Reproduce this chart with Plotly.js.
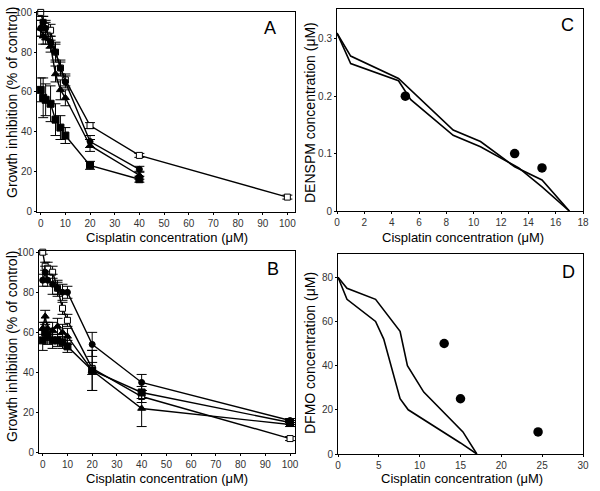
<!DOCTYPE html>
<html><head><meta charset="utf-8">
<script src="https://cdn.plot.ly/plotly-3.0.1.min.js"></script>
<style>body{margin:0;background:#fff}#g{width:600px;height:491px}</style>
</head><body><div id="g"></div>
<script>
// Panel A
const xA = [0, 1, 2, 4, 6, 8, 10, 20, 40, 100];
const aOpenSq = [100, 95, 93, 91, 80, 72, 66, 43, 28, 7];
const aOpenSqErr = [2, 3, 3, 3, 4, 4, 3, 1.5, 1, 1];
const aCircle = [92, 95, 92, 85, 80, 72, 65, 35, 21];
const aCircleErr = [4, 3, 3, 3, 5, 3, 3, 3, 1.5];
const aTri = [92, 88, 87, 83, 69, 61, 57, 33, 18];
const aTriErr = [4, 4, 3, 3, 4, 5, 4, 3, 2];
const aFillSq = [61, 57, 56, 54, 46, 42, 38, 23, 16];
const aFillSqErr = [6, 10, 8, 9, 8, 6, 4, 2, 1.5];
// Panel B
const xB = [0, 1, 2, 4, 6, 8, 10, 20, 40, 100];
const bOpenSq = [100, 93, 92, 90, 82, 72, 66, 42, 28, 7];
const bOpenSqErr = [1, 2, 3, 3, 3, 3, 3, 3, 3, 1];
const bCircle = [86, 90, 86, 84, 82, 80, 80, 54, 35, 16];
const bCircleErr = [3, 3, 3, 5, 4, 4, 3, 6, 4, 1];
const bTri = [62, 68, 62, 61, 63, 60, 58, 41, 22, 14];
const bTriErr = [3, 3, 3, 4, 4, 4, 4, 10, 9, 1];
const bFillSq = [56, 60, 58, 56, 56, 55, 53, 41, 30, 15];
const bFillSqErr = [5, 4, 4, 4, 3, 3, 3, 10, 3, 1];
// Panel C (isobolograms)
const cLine1X = [0, 1, 4.5, 8.5, 10.5, 13, 15, 17];
const cLine1Y = [0.31, 0.27, 0.231, 0.141, 0.121, 0.077, 0.054, 0];
const cLine2X = [0, 1, 4.5, 5.4, 8.5, 10.5, 13.3, 15, 17];
const cLine2Y = [0.31, 0.257, 0.227, 0.194, 0.132, 0.112, 0.075, 0.042, 0];
const cDotsX = [5, 13, 15];
const cDotsY = [0.2, 0.1, 0.075];
// Panel D
const dLine1X = [0, 1.1, 4.6, 7.6, 8.5, 10.5, 15.3, 17];
const dLine1Y = [80, 75, 70, 55.5, 40, 28, 10, 0];
const dLine2X = [0, 1.1, 4.6, 5.6, 7.6, 8.6, 15, 17];
const dLine2Y = [80, 70, 60, 52, 25, 20, 5, 0];
const dDotsX = [13, 15, 24.5];
const dDotsY = [50, 25, 10];

const xTitle = 'Cisplatin concentration (μM)';
const yTitleAB = 'Growth inhibition (% of control)';
const yTitleC = 'DENSPM concentration (μM)';
const yTitleD = 'DFMO concentration (μM)';

const font = 'Liberation Sans, Arial, sans-serif';
function ser(x, y, e, sym, fill, size, xa, ya){
  return {x: x.slice(0, y.length), y: y, xaxis: xa, yaxis: ya, type: 'scatter', mode: 'lines+markers',
    line: {color: '#000', width: 1.4},
    marker: {symbol: sym, size: size, color: fill, line: {color: '#000', width: 1}},
    error_y: {type: 'data', array: e, visible: true, color: '#000', thickness: 1, width: 5},
    showlegend: false, cliponaxis: false};
}
function lin(x, y, xa, ya){
  return {x: x, y: y, xaxis: xa, yaxis: ya, type: 'scatter', mode: 'lines', line: {color: '#000', width: 1.6}, showlegend: false};
}
function dots(x, y, xa, ya){
  return {x: x, y: y, xaxis: xa, yaxis: ya, type: 'scatter', mode: 'markers', marker: {color: '#000', size: 9.5}, showlegend: false, cliponaxis: false};
}
const data = [
  ser(xA, aOpenSq, aOpenSqErr, 'square', '#fff', 6, 'x', 'y'),
  ser(xA, aCircle, aCircleErr, 'circle', '#000', 6, 'x', 'y'),
  ser(xA, aTri, aTriErr, 'triangle-up', '#000', 7, 'x', 'y'),
  ser(xA, aFillSq, aFillSqErr, 'square', '#000', 7, 'x', 'y'),
  lin(cLine1X, cLine1Y, 'x2', 'y2'),
  lin(cLine2X, cLine2Y, 'x2', 'y2'),
  dots(cDotsX, cDotsY, 'x2', 'y2'),
  ser(xB, bOpenSq, bOpenSqErr, 'square', '#fff', 6, 'x3', 'y3'),
  ser(xB, bCircle, bCircleErr, 'circle', '#000', 6, 'x3', 'y3'),
  ser(xB, bTri, bTriErr, 'triangle-up', '#000', 7, 'x3', 'y3'),
  ser(xB, bFillSq, bFillSqErr, 'square', '#000', 7, 'x3', 'y3'),
  lin(dLine1X, dLine1Y, 'x4', 'y4'),
  lin(dLine2X, dLine2Y, 'x4', 'y4'),
  dots(dDotsX, dDotsY, 'x4', 'y4')
];
function ax(extra){
  return Object.assign({showgrid: false, zeroline: false, showline: true, mirror: true, linecolor: '#000', linewidth: 1,
    ticks: 'outside', ticklen: 2, tickcolor: '#000', tickfont: {family: font, size: 10, color: '#333'}}, extra);
}
const tfx = {family: font, size: 13, color: '#000'};
const tfy = {family: font, size: 14, color: '#000'};
function lab(text, px, py, rot){
  return {text: text, x: px/600, y: 1-py/491, xref: 'paper', yref: 'paper', xanchor: 'center', yanchor: 'middle',
    showarrow: false, textangle: rot || 0, font: rot ? tfy : tfx};
}
function letter(text, px, py){
  return {text: text, x: px/600, y: 1-py/491, xref: 'paper', yref: 'paper', xanchor: 'center', yanchor: 'middle',
    showarrow: false, font: {family: font, size: 18, color: '#000'}};
}
const layout = {
  width: 600, height: 491, margin: {l: 0, r: 0, t: 0, b: 0}, paper_bgcolor: '#fff', plot_bgcolor: '#fff',
  xaxis: ax({domain: [37/600, 295/600], range: [-1.5, 103.1], dtick: 10, anchor: 'y'}),
  yaxis: ax({domain: [1-212/491, 1-12/491], range: [-0.5, 100.2], dtick: 20, anchor: 'x'}),
  xaxis2: ax({domain: [337/600, 583/600], range: [0, 18], dtick: 2, anchor: 'y2'}),
  yaxis2: ax({domain: [1-211/491, 1-9/491], range: [0, 0.352], dtick: 0.1, anchor: 'x2'}),
  xaxis3: ax({domain: [39/600, 295/600], range: [-1.5, 102], dtick: 10, anchor: 'y3'}),
  yaxis3: ax({domain: [1-453/491, 1-251/491], range: [-0.2, 100.6], dtick: 20, anchor: 'x3'}),
  xaxis4: ax({domain: [338/600, 583/600], range: [0, 30], dtick: 5, anchor: 'y4'}),
  yaxis4: ax({domain: [1-454/491, 1-254/491], range: [0, 90.5], dtick: 20, anchor: 'x4'}),
  annotations: [
    lab(xTitle, 167, 237), lab(xTitle, 463, 237), lab(xTitle, 167, 478), lab(xTitle, 462, 478),
    lab(yTitleAB, 12, 103, -90), lab(yTitleC, 310, 113, -90), lab(yTitleAB, 12, 347, -90), lab(yTitleD, 310, 353, -90),
    letter('A', 270, 28), letter('C', 567, 25), letter('B', 273, 269), letter('D', 568, 272)
  ]
};
Plotly.newPlot('g', data, layout, {displayModeBar: false, staticPlot: true});
</script></body></html>
